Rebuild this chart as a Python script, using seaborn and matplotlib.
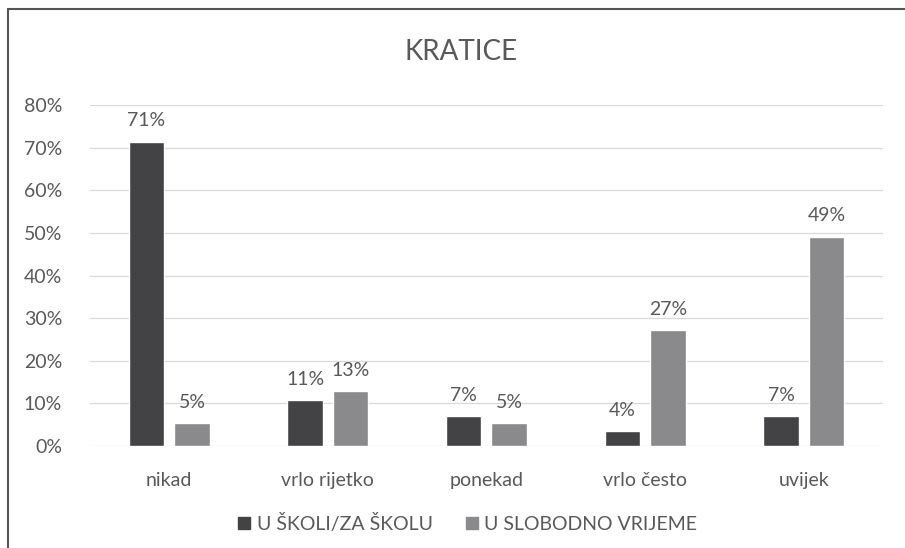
import seaborn as sns
import matplotlib.pyplot as plt
import pandas as pd
from matplotlib.lines import Line2D

categories = ['nikad', 'vrlo rijetko', 'ponekad', 'vrlo često', 'uvijek']
series_names = ['U ŠKOLI/ZA ŠKOLU', 'U SLOBODNO VRIJEME']
skola = [71.4, 10.8, 7.0, 3.5, 7.0]
slobodno = [5.4, 12.9, 5.4, 27.2, 49.1]
yticks = [0, 10, 20, 30, 40, 50, 60, 70, 80]

df = pd.DataFrame({
    'kategorija': categories * 2,
    'serija': [series_names[0]] * len(categories) + [series_names[1]] * len(categories),
    'postotak': skola + slobodno,
})

sns.set_style('white')
plt.rcParams['font.family'] = ['Lato', 'DejaVu Sans']
txt = '#595959'

fig = plt.figure(figsize=(9.05, 5.48), dpi=100)
ax = fig.add_axes([0.0994, 0.186, 0.8763, 0.6224])

sns.barplot(data=df, x='kategorija', y='postotak', hue='serija', order=categories,
            hue_order=series_names, palette=['#434345', '#8a8a8c'],
            width=0.574, gap=0.22, saturation=1, ax=ax, legend=False)

for cont in ax.containers:
    ax.bar_label(cont, labels=[f'{v:.0f}%' for v in cont.datavalues],
                 padding=9, fontsize=14, color=txt)

ax.set_ylim(0, 80)
ax.set_yticks(yticks)
ax.set_yticklabels([f'{t}%' for t in yticks])
ax.yaxis.grid(True, color='#d9d9d9', linewidth=0.9)
ax.set_axisbelow(True)
sns.despine(ax=ax, left=True, bottom=True, top=True, right=True)
ax.tick_params(axis='y', length=0, pad=20, labelsize=14, labelcolor=txt)
ax.tick_params(axis='x', length=0, pad=19, labelsize=14, labelcolor=txt)
ax.set_xlabel('')
ax.set_ylabel('')

fig.text(0.51, 0.905, 'KRATICE', ha='center', va='center', fontsize=20, color=txt)

handles = [Line2D([], [], marker='s', linestyle='', markersize=9, color=c)
           for c in ['#434345', '#8a8a8c']]
fig.legend(handles, series_names, loc='center', bbox_to_anchor=(0.516, 0.045),
           ncol=2, frameon=False, fontsize=14, labelcolor=txt,
           handletextpad=0.25, columnspacing=1.6, handlelength=0.8)

# outer chart frame (left and top edges)
fig.add_artist(Line2D([0.009, 0.009], [0.0, 0.983], color='#555555', linewidth=1.5))
fig.add_artist(Line2D([0.009, 1.0], [0.983, 0.983], color='#555555', linewidth=1.5))

fig.savefig('out.png', dpi=100)
